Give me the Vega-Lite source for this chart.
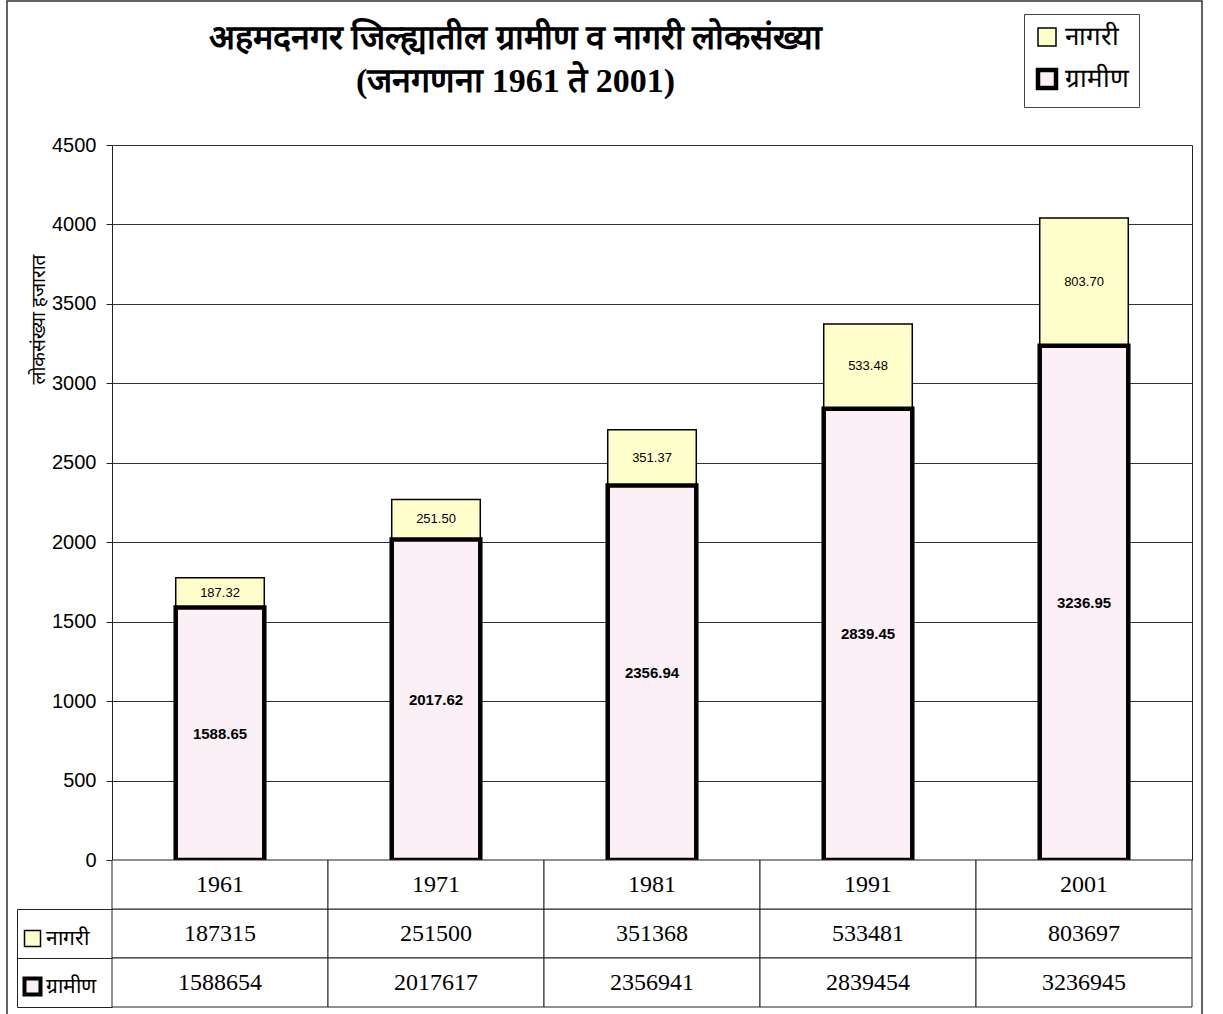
{
  "$schema": "https://vega.github.io/schema/vega-lite/v6.json",
  "width": 1195,
  "height": 1020,
  "autosize": "none",
  "padding": {"left": 7, "top": 1, "right": 21, "bottom": 0},
  "background": "white",
  "title": {
    "text": ["अहमदनगर जिल्ह्यातील ग्रामीण व नागरी लोकसंख्या", "(जनगणना 1961 ते 2001)"],
    "font": "Liberation Serif",
    "fontSize": 34,
    "fontWeight": "bold",
    "color": "black",
    "anchor": "middle",
    "dx": -89,
    "dy": 98,
    "lineHeight": 43,
    "offset": 0
  },
  "data": {
    "values": [
      {"year": "1961", "series": "नागरी", "thousands": 187.32, "persons": 187315},
      {"year": "1961", "series": "ग्रामीण", "thousands": 1588.65, "persons": 1588654},
      {"year": "1971", "series": "नागरी", "thousands": 251.50, "persons": 251500},
      {"year": "1971", "series": "ग्रामीण", "thousands": 2017.62, "persons": 2017617},
      {"year": "1981", "series": "नागरी", "thousands": 351.37, "persons": 351368},
      {"year": "1981", "series": "ग्रामीण", "thousands": 2356.94, "persons": 2356941},
      {"year": "1991", "series": "नागरी", "thousands": 533.48, "persons": 533481},
      {"year": "1991", "series": "ग्रामीण", "thousands": 2839.45, "persons": 2839454},
      {"year": "2001", "series": "नागरी", "thousands": 803.70, "persons": 803697},
      {"year": "2001", "series": "ग्रामीण", "thousands": 3236.95, "persons": 3236945}
    ]
  },
  "encoding": {
    "x": {
      "field": "year",
      "type": "ordinal",
      "scale": {"type": "band", "range": [105, 1185], "paddingInner": 0, "paddingOuter": 0},
      "axis": null
    }
  },
  "layer": [
    {
      "mark": {"type": "bar", "width": {"band": 0.41}, "stroke": "black"},
      "encoding": {
        "y": {
          "field": "thousands",
          "type": "quantitative",
          "stack": "zero",
          "scale": {"domain": [0, 4500], "range": [859, 144], "nice": false},
          "axis": {
            "orient": "left",
            "offset": -105,
            "values": [0, 500, 1000, 1500, 2000, 2500, 3000, 3500, 4000, 4500],
            "format": "d",
            "domain": true,
            "domainColor": "#222",
            "ticks": true,
            "tickSize": 6,
            "tickColor": "#222",
            "grid": true,
            "gridColor": "#333",
            "gridWidth": 1,
            "labelFont": "Liberation Sans",
            "labelFontSize": 20,
            "labelColor": "black",
            "labelPadding": 10,
            "title": "लोकसंख्या हजारात",
            "titleFont": "Noto Sans",
            "titleFontSize": 19,
            "titleFontWeight": "normal",
            "titleColor": "black",
            "titleAngle": -90,
            "titleX": -74,
            "titleY": 318,
            "titleAlign": "center",
            "titleBaseline": "middle"
          }
        },
        "fill": {
          "field": "series",
          "type": "nominal",
          "scale": {"domain": ["नागरी", "ग्रामीण"], "range": ["#FFFFCC", "#FAF0F5"]},
          "legend": {
            "orient": "none",
            "legendX": 1017,
            "legendY": 13,
            "title": null,
            "symbolType": "square",
            "symbolSize": 324,
            "labelFont": "Liberation Serif",
            "labelFontSize": 26,
            "labelColor": "black",
            "strokeColor": "#444",
            "fillColor": "white",
            "padding": 10,
            "rowPadding": 11,
            "labelOffset": 5
          }
        },
        "strokeWidth": {
          "field": "series",
          "type": "ordinal",
          "scale": {"type": "ordinal", "domain": ["नागरी", "ग्रामीण"], "range": [1.5, 4.5]},
          "legend": {
            "orient": "none",
            "legendX": 1017,
            "legendY": 13,
            "title": null,
            "symbolType": "square",
            "symbolSize": 324,
            "labelFont": "Liberation Serif",
            "labelFontSize": 26,
            "labelColor": "black",
            "strokeColor": "#444",
            "fillColor": "white",
            "padding": 10,
            "rowPadding": 11,
            "labelOffset": 5
          }
        },
        "order": {"field": "series", "sort": "ascending"}
      }
    },
    {
      "mark": {"type": "text", "font": "Liberation Sans", "fontSize": 15, "fontWeight": "bold", "color": "black", "baseline": "middle"},
      "encoding": {
        "y": {
          "field": "thousands",
          "type": "quantitative",
          "stack": "zero",
          "bandPosition": 0.5,
          "scale": {"domain": [0, 4500], "range": [859, 144], "nice": false},
          "axis": {
            "orient": "right",
            "offset": -10,
            "domain": true,
            "domainColor": "#222",
            "ticks": false,
            "labels": false,
            "grid": false,
            "title": null
          }
        },
        "text": {
          "condition": {"test": "datum.series === 'नागरी'", "value": ""},
          "field": "thousands",
          "type": "quantitative",
          "format": ".2f"
        },
        "order": {"field": "series", "sort": "ascending"}
      }
    },
    {
      "mark": {"type": "text", "font": "Liberation Sans", "fontSize": 13, "fontWeight": "normal", "color": "black", "baseline": "middle"},
      "encoding": {
        "y": {
          "field": "thousands",
          "type": "quantitative",
          "stack": "zero",
          "bandPosition": 0.5,
          "scale": {"domain": [0, 4500], "range": [859, 144], "nice": false},
          "axis": null
        },
        "text": {
          "condition": {"test": "datum.series === 'ग्रामीण'", "value": ""},
          "field": "thousands",
          "type": "quantitative",
          "format": ".2f"
        },
        "order": {"field": "series", "sort": "ascending"}
      }
    },
    {
      "mark": {"type": "rect", "fill": "white", "stroke": "#222", "strokeWidth": 1},
      "encoding": {
        "y": {
          "field": "series",
          "type": "nominal",
          "scale": {"domain": ["year", "नागरी", "ग्रामीण"], "range": [859, 1006], "paddingInner": 0, "paddingOuter": 0},
          "axis": {
            "orient": "left",
            "offset": -105,
            "tickBand": "extent",
            "ticks": true,
            "tickSize": 95,
            "tickColor": "#222",
            "tickOpacity": {"condition": {"test": "datum.index < 0", "value": 0}, "value": 1},
            "labels": false,
            "domain": false,
            "grid": false,
            "title": null
          }
        }
      }
    },
    {
      "transform": [{"filter": "datum.series === 'नागरी'"}],
      "mark": {"type": "rect", "fill": "white", "stroke": "#222", "strokeWidth": 1},
      "encoding": {
        "y": {
          "datum": "year",
          "type": "nominal",
          "scale": {"domain": ["year", "नागरी", "ग्रामीण"], "range": [859, 1006], "paddingInner": 0, "paddingOuter": 0},
          "axis": {
            "orient": "left",
            "offset": -10,
            "domain": true,
            "domainColor": "#222",
            "domainWidth": 1,
            "domainDash": [0, 49, 200],
            "ticks": false,
            "labels": false,
            "grid": false,
            "title": null
          }
        }
      }
    },
    {
      "mark": {"type": "text", "font": "Liberation Serif", "fontSize": 24, "color": "black", "baseline": "middle"},
      "encoding": {
        "y": {
          "field": "series",
          "type": "nominal",
          "scale": {"domain": ["year", "नागरी", "ग्रामीण"], "range": [859, 1006], "paddingInner": 0, "paddingOuter": 0},
          "axis": null
        },
        "text": {"field": "persons", "type": "quantitative", "format": "d"}
      }
    },
    {
      "transform": [{"filter": "datum.series === 'नागरी'"}],
      "mark": {"type": "text", "font": "Liberation Serif", "fontSize": 24, "color": "black", "baseline": "middle"},
      "encoding": {
        "y": {
          "datum": "year",
          "type": "nominal",
          "scale": {"domain": ["year", "नागरी", "ग्रामीण"], "range": [859, 1006], "paddingInner": 0, "paddingOuter": 0},
          "axis": null
        },
        "text": {"field": "year", "type": "nominal"}
      }
    },
    {
      "mark": {"type": "text", "text": "", "stroke": "black"},
      "encoding": {
        "y": {
          "field": "series",
          "type": "nominal",
          "scale": {"domain": ["year", "नागरी", "ग्रामीण"], "range": [859, 1006], "paddingInner": 0, "paddingOuter": 0},
          "axis": null
        },
        "fill": {
          "field": "series",
          "type": "nominal",
          "scale": {"domain": ["नागरी", "ग्रामीण"], "range": ["#FFFFCC", "#FAF0F5"]},
          "legend": {
            "orient": "none",
            "legendX": 15,
            "legendY": 927,
            "title": null,
            "symbolType": "square",
            "symbolSize": 256,
            "labelFont": "Liberation Serif",
            "labelFontSize": 21,
            "labelColor": "black",
            "padding": 0,
            "rowPadding": 20,
            "labelOffset": 3
          }
        },
        "strokeWidth": {
          "field": "series",
          "type": "ordinal",
          "scale": {"type": "ordinal", "domain": ["नागरी", "ग्रामीण"], "range": [1.5, 4]},
          "legend": {
            "orient": "none",
            "legendX": 15,
            "legendY": 927,
            "title": null,
            "symbolType": "square",
            "symbolSize": 256,
            "labelFont": "Liberation Serif",
            "labelFontSize": 21,
            "labelColor": "black",
            "padding": 0,
            "rowPadding": 20,
            "labelOffset": 3
          }
        }
      }
    }
  ],
  "resolve": {
    "scale": {"y": "independent", "fill": "independent", "strokeWidth": "independent"},
    "axis": {"y": "independent"},
    "legend": {"fill": "independent", "strokeWidth": "independent"}
  },
  "config": {
    "view": {"stroke": "#333", "strokeWidth": 1.5}
  }
}
